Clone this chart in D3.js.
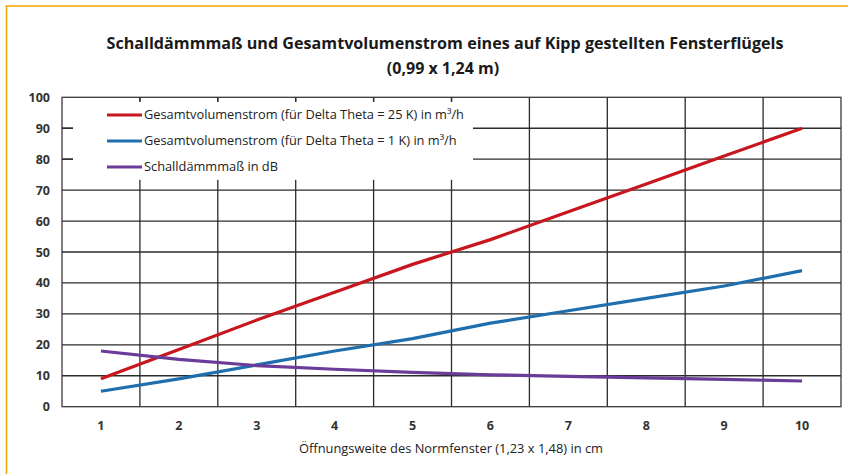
<!DOCTYPE html>
<html>
<head>
<meta charset="utf-8">
<title>Schalldämmmaß und Gesamtvolumenstrom</title>
<style>
  body { margin: 0; background: #fff; }
  text { font-family: "Open Sans", "Noto Sans", sans-serif; }
</style>
</head>
<body>
<script src="https://d3js.org/d3.v7.min.js"></script>
<script>

// data
var oeffnung = [1, 2, 3, 4, 5, 6, 7, 8, 9, 10];
var volumen25K = [9, 18.5, 28, 37, 46, 54, 63, 72, 81, 90];
var volumen1K = [5, 9, 13.5, 18, 22, 27, 31, 35, 39, 44];
var schalldaemm = [18, 15.3, 13.3, 12.1, 11.1, 10.3, 9.8, 9.3, 8.8, 8.3];
var yTicks = [0, 10, 20, 30, 40, 50, 60, 70, 80, 90, 100];

var seriesNames = [
    "Gesamtvolumenstrom (für Delta Theta = 25 K) in m³/h",
    "Gesamtvolumenstrom (für Delta Theta = 1 K) in m³/h",
    "Schalldämmmaß in dB"
];
var seriesColors = ["#c8161e", "#1f6ead", "#6a3b98"];
var series = [volumen25K, volumen1K, schalldaemm];

var W = 848, H = 474;
var margin = { top: 97.3, right: 7, bottom: 67.3, left: 62 },
    width = W - margin.left - margin.right,
    height = H - margin.top - margin.bottom;

var svg = d3.select("body").append("svg")
    .attr("width", W)
    .attr("height", H);

// orange frame (only top and left visible)
svg.append("path")
    .attr("d", "M6.5," + H + "V6H" + W)
    .attr("fill", "none")
    .attr("stroke", "#f2a600")
    .attr("stroke-width", 1.6);

// title
var title = svg.append("text")
    .attr("text-anchor", "middle")
    .attr("font-weight", "bold")
    .attr("font-size", 16)
    .attr("fill", "#1a1a1a");
title.append("tspan")
    .attr("x", 445).attr("y", 49)
    .attr("textLength", 677)
    .attr("lengthAdjust", "spacingAndGlyphs")
    .text("Schalldämmmaß und Gesamtvolumenstrom eines auf Kipp gestellten Fensterflügels");
title.append("tspan")
    .attr("x", 443).attr("y", 74)
    .text("(0,99 x 1,24 m)");

var g = svg.append("g")
    .attr("transform", "translate(" + margin.left + "," + margin.top + ")");

// scales
var x = d3.scaleBand().domain(oeffnung).range([0, width]).padding(0);
var y = d3.scaleLinear().domain([0, 100]).range([height, 0]);

// horizontal grid
g.selectAll(".hgrid")
    .data(yTicks.filter(function(d) { return d > 0 && d < 100; }))
    .enter().append("line")
    .attr("class", "hgrid")
    .attr("x1", 0).attr("x2", width)
    .attr("y1", function(d) { return y(d); })
    .attr("y2", function(d) { return y(d); })
    .attr("stroke", "#2b2b2b")
    .attr("stroke-width", 1.3);

// vertical grid at category boundaries
g.selectAll(".vgrid")
    .data(oeffnung.slice(1))
    .enter().append("line")
    .attr("class", "vgrid")
    .attr("x1", function(d) { return x(d); })
    .attr("x2", function(d) { return x(d); })
    .attr("y1", 0).attr("y2", height)
    .attr("stroke", "#2b2b2b")
    .attr("stroke-width", 1.3);

// plot frame
g.append("rect")
    .attr("width", width).attr("height", height)
    .attr("fill", "none")
    .attr("stroke", "#3a3a3a")
    .attr("stroke-width", 1.3);

// y axis labels
var yAxis = d3.axisLeft(y).tickValues(yTicks).tickSize(0).tickPadding(12);
g.append("g").call(yAxis)
    .call(function(s) { s.select(".domain").remove(); })
    .selectAll("text")
    .attr("font-size", 12.5)
    .attr("font-weight", "bold")
    .attr("fill", "#333")
    .attr("font-family", "\"Open Sans\", sans-serif");

// x axis labels
var xAxis = d3.axisBottom(x).tickSize(0).tickPadding(14);
g.append("g")
    .attr("transform", "translate(0," + height + ")")
    .call(xAxis)
    .call(function(s) { s.select(".domain").remove(); })
    .selectAll("text")
    .attr("font-size", 12.5)
    .attr("font-weight", "bold")
    .attr("fill", "#333")
    .attr("font-family", "\"Open Sans\", sans-serif");

// x axis title
svg.append("text")
    .attr("x", 451).attr("y", 453)
    .attr("text-anchor", "middle")
    .attr("font-size", 12.5)
    .attr("fill", "#222")
    .attr("textLength", 304)
    .attr("lengthAdjust", "spacingAndGlyphs")
    .text("Öffnungsweite des Normfenster (1,23 x 1,48)  in cm");

// legend box (white, covers the grid)
var legend = g.append("g");
legend.append("rect")
    .attr("x", 11).attr("y", 4.5)
    .attr("width", 400).attr("height", 78)
    .attr("fill", "#fff");

// tick stubs left visible by the legend box
g.selectAll(".ystub")
    .data([80, 90])
    .enter().append("line")
    .attr("x1", 0).attr("x2", 11)
    .attr("y1", function(d) { return y(d); })
    .attr("y2", function(d) { return y(d); })
    .attr("stroke", "#2b2b2b").attr("stroke-width", 1.3);
g.selectAll(".xstub")
    .data(oeffnung.slice(1, 6))
    .enter().append("line")
    .attr("x1", function(d) { return x(d); })
    .attr("x2", function(d) { return x(d); })
    .attr("y1", 0).attr("y2", 4.5)
    .attr("stroke", "#2b2b2b").attr("stroke-width", 1.3);

var item = legend.selectAll(".item")
    .data(seriesNames)
    .enter().append("g")
    .attr("transform", function(d, i) { return "translate(45," + (17.7 + i * 26) + ")"; });
item.append("line")
    .attr("x1", 0).attr("x2", 35)
    .attr("stroke", function(d, i) { return seriesColors[i]; })
    .attr("stroke-width", 3.2);
item.append("text")
    .attr("x", 37).attr("dy", "0.35em")
    .attr("font-size", 12.8)
    .attr("fill", "#222")
    .text(function(d) { return d; });

// series lines
var line = d3.line()
    .x(function(d, i) { return x(oeffnung[i]) + x.bandwidth() / 2; })
    .y(function(d) { return y(d); });

g.selectAll(".series")
    .data(series)
    .enter().append("path")
    .attr("class", "series")
    .attr("d", line)
    .attr("fill", "none")
    .attr("stroke", function(d, i) { return seriesColors[i]; })
    .attr("stroke-width", 3.2)
    .attr("stroke-linejoin", "round");

</script>
</body>
</html>
